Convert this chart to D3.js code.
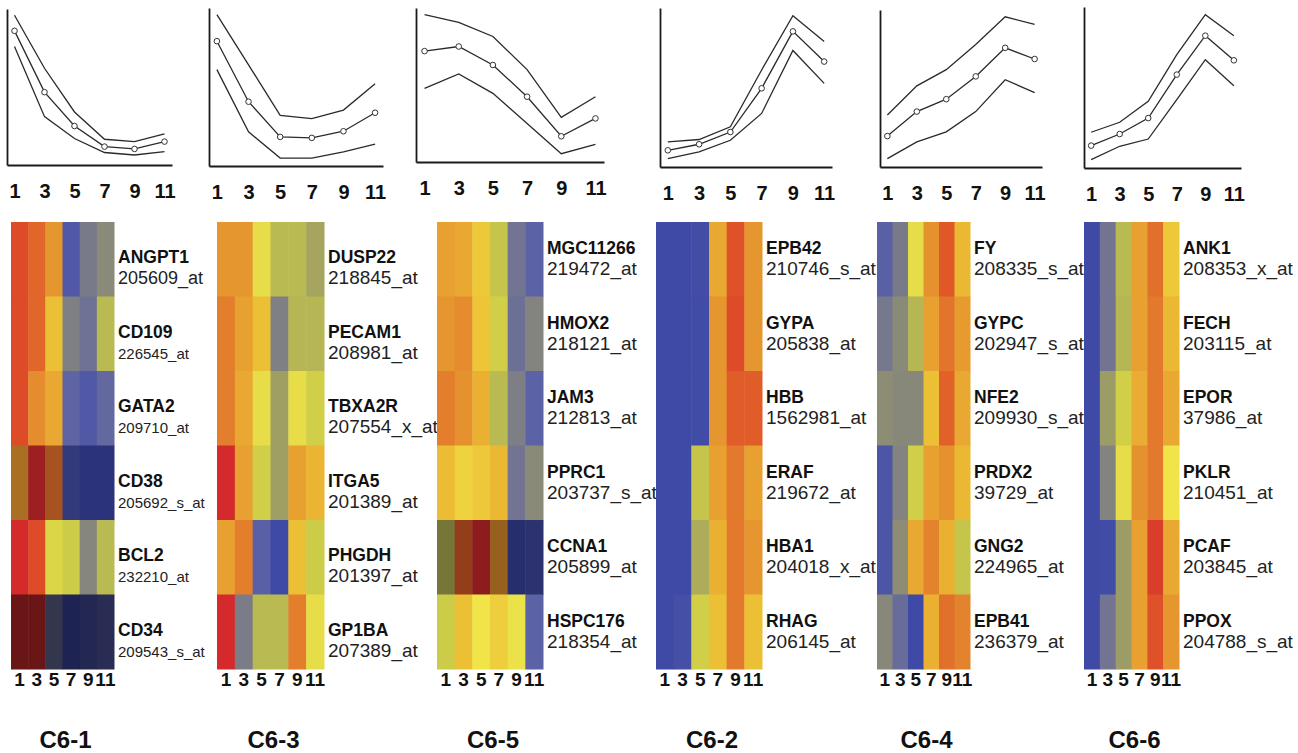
<!DOCTYPE html>
<html>
<head>
<meta charset="utf-8">
<script src="https://cdn.jsdelivr.net/npm/d3@7"></script>
<style>
  body { margin: 0; background: #fff; }
  svg { display: block; font-family: "Liberation Sans", Arial, Helvetica, sans-serif; }
  .axis path { stroke: #1a1a1a; stroke-width: 1.8; }
  .axis text { font-weight: bold; fill: #111; }
</style>
</head>
<body>
<div id="vis-svg"></div>
<script>
// time points (sample index) shared by all clusters
var times = [1, 3, 5, 7, 9, 11];
var timeLabels = ["1", "3", "5", "7", "9", "11"];

var clusterNames = ["C6-1", "C6-3", "C6-5", "C6-2", "C6-4", "C6-6"];

// cluster profiles, 0 = bottom of plot, 100 = top
var profileMean = [
  [86, 46.7, 25, 11.8, 10.3, 15],
  [79, 40.7, 18.4, 17.8, 22, 33.7],
  [72, 75, 63, 42.4, 16.7, 28.3],
  [10.5, 14.3, 22, 49.5, 85.3, 66.3],
  [19.7, 35.3, 43.2, 57.7, 75.9, 68.8],
  [13.9, 21.1, 31, 58, 82.2, 66.9]
];
var profileUpper = [
  [96, 62, 34, 16.5, 15, 20],
  [95.8, 64, 32, 30, 35.4, 52],
  [95.7, 90.7, 81.5, 60, 29, 42.4],
  [15.8, 17.3, 25.3, 61, 95.2, 79],
  [33.1, 51.7, 62, 78, 95.7, 90.8],
  [22.2, 28.4, 41.4, 70.4, 95.2, 82.2]
];
var profileLower = [
  [76, 31, 17, 8, 6.4, 8.6],
  [61, 21.6, 5, 5, 9, 13.8],
  [47.8, 57.2, 44.6, 25, 5.4, 11.5],
  [5.3, 9.5, 16.8, 33.7, 73.3, 52.6],
  [5.3, 16, 22.4, 35.3, 55.6, 47.4],
  [5.2, 13.5, 18, 42.4, 67.3, 51.1]
];

var genes = [
  ["ANGPT1", "CD109", "GATA2", "CD38", "BCL2", "CD34"],
  ["DUSP22", "PECAM1", "TBXA2R", "ITGA5", "PHGDH", "GP1BA"],
  ["MGC11266", "HMOX2", "JAM3", "PPRC1", "CCNA1", "HSPC176"],
  ["EPB42", "GYPA", "HBB", "ERAF", "HBA1", "RHAG"],
  ["FY", "GYPC", "NFE2", "PRDX2", "GNG2", "EPB41"],
  ["ANK1", "FECH", "EPOR", "PKLR", "PCAF", "PPOX"]
];
var probes = [
  ["205609_at", "226545_at", "209710_at", "205692_s_at", "232210_at", "209543_s_at"],
  ["218845_at", "208981_at", "207554_x_at", "201389_at", "201397_at", "207389_at"],
  ["219472_at", "218121_at", "212813_at", "203737_s_at", "205899_at", "218354_at"],
  ["210746_s_at", "205838_at", "1562981_at", "219672_at", "204018_x_at", "206145_at"],
  ["208335_s_at", "202947_s_at", "209930_s_at", "39729_at", "224965_at", "236379_at"],
  ["208353_x_at", "203115_at", "37986_at", "210451_at", "203845_at", "204788_s_at"]
];

// heatmap levels, 0 (low, blue) .. 10 (high, red); one row per gene, one column per time
var heat = [
  [[9.5, 9, 8, 1, 2.7, 3.5],
   [9.5, 9, 7, 3, 2.3, 5],
   [9.5, 8.2, 7.6, 1.6, 1, 1.8],
   [8, 10, 8.8, 0.5, 0, 0],
   [10, 9.5, 5.8, 5.5, 3.3, 5],
   [10, 10, 2, 0, 0.5, 1]],
  [[8, 8, 6, 5, 5, 4.4],
   [8.5, 7.8, 7, 3, 4.9, 4.9],
   [8.5, 7.6, 6, 4.2, 6, 5.6],
   [10, 7.8, 5.6, 4.2, 7.8, 7.3],
   [7.8, 8.5, 1.4, 0.2, 7, 5.5],
   [10, 2.8, 5, 5, 8.5, 6]],
  [[7.8, 7.6, 6.8, 5.3, 2.4, 1.5],
   [8, 8.2, 6.9, 5.6, 2.2, 3.2],
   [8.5, 8.1, 7.4, 5, 2.9, 1.5],
   [7.1, 6.6, 6.8, 7.2, 2.4, 3.5],
   [4.8, 9.2, 10, 8.1, 0, 0.3],
   [5.5, 7, 6.2, 6.7, 6.1, 1.5]],
  [[0.2, 0.2, 0.4, 7.6, 9.4, 8],
   [0.2, 0.2, 0.3, 8, 9.5, 8],
   [0.2, 0.2, 0.3, 8, 9.2, 9.2],
   [0.2, 0.2, 5.3, 7.8, 8.6, 7.8],
   [0.2, 0.2, 4.6, 7.4, 8.6, 8],
   [0.2, 0.5, 5.6, 7, 8.6, 7]],
  [[1.4, 2.7, 6, 8.1, 9.3, 7.2],
   [2.6, 3.5, 4.9, 7.8, 8.7, 7.9],
   [3.6, 3.4, 3.4, 7, 9.1, 7.6],
   [0.8, 3.2, 5.6, 7.8, 8.1, 7.2],
   [0.8, 3.6, 7.6, 8.4, 7.4, 5.3],
   [3.4, 2, 0.2, 7.4, 8.8, 8.4]],
  [[0.2, 2.4, 5, 7.8, 8.8, 6.8],
   [0.2, 2.4, 4.9, 7.8, 8.6, 7.2],
   [0.2, 4.1, 5.6, 7.5, 8.6, 7.6],
   [0.2, 3.2, 6, 8.1, 8.6, 6.2],
   [0.2, 0.3, 4.1, 7.8, 9.7, 7.6],
   [0.2, 2.4, 4.1, 7.8, 9.4, 8]]
];
// overall brightness of each gene row (1 = full)
var rowShade = [
  [1, 1, 1, 0.74, 1, 0.5],
  [1, 1, 1, 1, 1, 1],
  [1, 1, 1, 1, 0.66, 1],
  [1, 1, 1, 1, 1, 1],
  [1, 1, 1, 1, 1, 1],
  [1, 1, 1, 1, 1, 1]
];

// ---- layout / styles ----
var width = 1298;
var height = 753;
var geom = [
  {cx0: 7,    cx1: 172,  cTop: 9,  cBot: 165, hx0: 11,   hx1: 114,  nameDy: -2,  probeSize: 15},
  {cx0: 209,  cx1: 383,  cTop: 8,  cBot: 166, hx0: 217,  hx1: 324,  nameDy: -2,  probeSize: 19},
  {cx0: 416,  cx1: 604,  cTop: 8,  cBot: 162, hx0: 437,  hx1: 543,  nameDy: -11, probeSize: 19},
  {cx0: 660,  cx1: 832,  cTop: 8,  cBot: 167, hx0: 656,  hx1: 762,  nameDy: -11, probeSize: 19},
  {cx0: 880,  cx1: 1042, cTop: 10, cBot: 167, hx0: 877,  hx1: 970,  nameDy: -11, probeSize: 19},
  {cx0: 1084, cx1: 1241, cTop: 7,  cBot: 168, hx0: 1084, hx1: 1179, nameDy: -11, probeSize: 19}
];
var heatTop = 222, heatBot = 669;

var color = d3.scaleLinear()
  .domain([0, 1.5, 2.5, 3.5, 4.5, 5.5, 6.2, 7, 7.8, 8.5, 9.3, 10])
  .range(["#3a46a6", "#5c62a6", "#74768f", "#8a8a78", "#a8a85c", "#cccc48",
          "#f0e448", "#ecc034", "#e8a030", "#e27e2c", "#e05828", "#d42a2c"])
  .clamp(true);

var svg = d3
  .select("#vis-svg")
  .append("svg")
  .attr("width", width)
  .attr("height", height);

svg.append("rect").attr("width", width).attr("height", height).attr("fill", "#fff");

clusterNames.forEach(function(name, p) {
  var g = geom[p];

  // ---- profile plot ----
  var x = d3.scaleLinear().domain([0.5, 11.5]).range([g.cx0, g.cx1]);
  var y = d3.scaleLinear().domain([0, 100]).range([g.cBot, g.cTop]);

  var plot = svg.append("g").attr("class", "profile");

  plot.append("g")
    .attr("class", "axis")
    .attr("transform", "translate(0," + g.cBot + ")")
    .call(d3.axisBottom(x).tickValues(times).tickFormat(function(d, i) { return timeLabels[i]; })
      .tickSize(0).tickPadding(19))
    .call(function(a) { a.selectAll("text").style("font-size", "20px"); });

  plot.append("g")
    .attr("class", "axis")
    .attr("transform", "translate(" + g.cx0 + ",0)")
    .call(d3.axisLeft(y).tickValues([]).tickSizeOuter(0));

  var line = d3.line()
    .x(function(d, i) { return x(times[i]); })
    .y(function(d) { return y(d); });

  [profileUpper[p], profileMean[p], profileLower[p]].forEach(function(series) {
    plot.append("path")
      .datum(series)
      .attr("d", line)
      .attr("fill", "none")
      .attr("stroke", "#2a2a2a")
      .attr("stroke-width", 1.3);
  });

  plot.selectAll("circle")
    .data(profileMean[p])
    .enter()
    .append("circle")
    .attr("cx", function(d, i) { return x(times[i]); })
    .attr("cy", function(d) { return y(d); })
    .attr("r", 2.8)
    .attr("fill", "#fff")
    .attr("stroke", "#333")
    .attr("stroke-width", 1);

  // ---- heatmap ----
  var xb = d3.scaleBand().domain(times).range([g.hx0, g.hx1]);
  var yb = d3.scaleBand().domain(genes[p]).range([heatTop, heatBot]);

  var hm = svg.append("g").attr("class", "heatmap");
  var cells = [];
  heat[p].forEach(function(row, r) {
    row.forEach(function(v, c) {
      cells.push({gene: genes[p][r], t: times[c], v: v, shade: rowShade[p][r]});
    });
  });

  hm.selectAll("rect")
    .data(cells)
    .enter()
    .append("rect")
    .attr("x", function(d) { return xb(d.t); })
    .attr("y", function(d) { return yb(d.gene); })
    .attr("width", xb.bandwidth() + 0.5)
    .attr("height", yb.bandwidth() + 0.5)
    .attr("fill", function(d) {
      var c = d3.rgb(color(d.v));
      return d3.rgb(c.r * d.shade, c.g * d.shade, c.b * d.shade);
    });

  hm.append("g")
    .attr("class", "axis")
    .attr("transform", "translate(0," + heatBot + ")")
    .call(d3.axisBottom(xb).tickFormat(function(d, i) { return timeLabels[i]; })
      .tickSize(0).tickPadding(3))
    .call(function(a) {
      a.select(".domain").remove();
      a.selectAll("text").style("font-size", "19px");
    });

  var labels = hm.selectAll(".gene")
    .data(genes[p])
    .enter()
    .append("g")
    .attr("class", "gene")
    .attr("transform", function(d) {
      return "translate(" + (g.hx1 + 4) + "," + (yb(d) + yb.bandwidth() / 2) + ")";
    });

  labels.append("text")
    .attr("y", g.nameDy + 6)
    .style("font-size", "17.5px")
    .style("font-weight", "bold")
    .attr("fill", "#111")
    .text(function(d) { return d; });

  labels.append("text")
    .attr("y", g.nameDy + 27)
    .style("font-size", function(d, i) { return (p === 0 && i === 0 ? 18 : g.probeSize) + "px"; })
    .attr("fill", "#222")
    .text(function(d, i) { return probes[p][i]; });

  svg.append("text")
    .attr("x", (g.hx0 + g.hx1) / 2 + 3)
    .attr("y", 748)
    .attr("text-anchor", "middle")
    .style("font-size", "24px")
    .style("font-weight", "bold")
    .attr("fill", "#111")
    .text(name);
});
</script>
</body>
</html>
